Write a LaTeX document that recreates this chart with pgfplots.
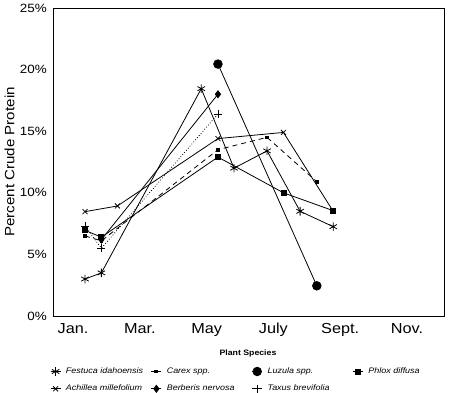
\documentclass[border=0pt]{standalone}
\usepackage{fontspec}
\setmainfont{Liberation Sans}[FakeStretch=1.12]
\usepackage{pgfplots}
\pgfplotsset{compat=1.18}
\begin{document}
\begin{tikzpicture}
\path[use as bounding box] (-53pt,-77pt) rectangle (397pt,316pt);
\begin{axis}[
  scale only axis, width=391pt, height=308pt,
  xmin=0.401, xmax=12.108, ymin=0, ymax=25,
  xtick={1,3,5,7,9,11}, xticklabels={Jan.,Mar.,May,July,Sept.,Nov.},
  ytick={0,5,10,15,20,25}, yticklabels={0\%,5\%,10\%,15\%,20\%,25\%},
  major tick length=0pt,
  x tick label style={font=\fontsize{14.5}{16}\selectfont, inner sep=0pt, anchor=north, yshift=-7pt},
  y tick label style={font=\fontsize{12}{14}\selectfont, inner sep=0pt, anchor=east, xshift=-6pt},
  ylabel={Percent Crude Protein},
  every axis y label/.style={at={(axis description cs:-0.111,0.5)}, rotate=90, anchor=center, font=\fontsize{13.5}{16}\selectfont},
  axis line style={line width=0.8pt},
  clip=false,
  every axis plot/.append style={black, line width=0.8pt},
  legend columns=4,
  legend cell align=left,
  legend style={at={(axis description cs:0,0)}, anchor=north west, xshift=-3pt, yshift=-51pt,
    draw=none, fill=none, inner sep=0pt, row sep=9pt,
    font=\fontsize{8}{9}\selectfont\itshape,
    nodes={inner sep=0pt},
    /tikz/every odd column/.append style={column sep=5pt}},
  legend image code/.code={\path (-5pt,0)--(5pt,0); \draw[#1] plot coordinates {(0pt,0pt)};},
]
% Festuca idahoensis
\addplot[mark=asterisk, mark size=4.3pt] coordinates {(1.36,3.0) (1.85,3.5) (4.84,18.45) (5.82,12.0) (6.81,13.4) (7.80,8.5) (8.79,7.25)};
\addlegendentry{\makebox[85pt][l]{Festuca idahoensis}}
% Carex spp.
\addplot[dash pattern=on 5pt off 4pt, mark=square*, mark size=1.3pt, mark options={solid},
  legend image code/.code={\draw[solid] (-5pt,0)--(5pt,0); \fill (-1.5pt,-1.3pt) rectangle (1.5pt,1.3pt);}]
  coordinates {(1.36,6.5) (1.85,6.1) (5.34,13.5) (6.81,14.5) (8.30,10.9)};
\addlegendentry{\makebox[85pt][l]{Carex spp.}}
% Luzula spp.
\addplot[mark=*, mark size=4.3pt] coordinates {(5.34,20.45) (8.30,2.45)};
\addlegendentry{\makebox[85pt][l]{Luzula spp.}}
% Phlox diffusa
\addplot[mark=square*, mark size=2.5pt] coordinates {(1.36,6.95) (1.85,6.4) (5.34,12.9) (7.30,10.0) (8.79,8.55)};
\addlegendentry{\makebox[85pt][l]{Phlox diffusa}}
% Achillea millefolium
\addplot[mark=x, mark size=3.5pt] coordinates {(1.36,8.47) (2.33,8.93) (5.34,14.4) (7.30,14.9) (8.79,8.5)};
\addlegendentry{\makebox[85pt][l]{Achillea millefolium}}
% Berberis nervosa
\addplot[mark=diamond*, mark size=3.5pt] coordinates {(1.85,6.2) (5.34,18.0)};
\addlegendentry{\makebox[85pt][l]{Berberis nervosa}}
% Taxus brevifolia
\addplot[dotted, mark=+, mark size=4pt, mark options={solid}] coordinates {(1.36,7.3) (1.85,5.5) (5.34,16.4)};
\addlegendentry{\makebox[85pt][l]{Taxus brevifolia}}
\node[font=\fontsize{7.8}{9}\selectfont\bfseries, anchor=center] at (axis description cs:0.4987,0) [yshift=-37pt] {Plant Species};
\end{axis}
\end{tikzpicture}
\end{document}
